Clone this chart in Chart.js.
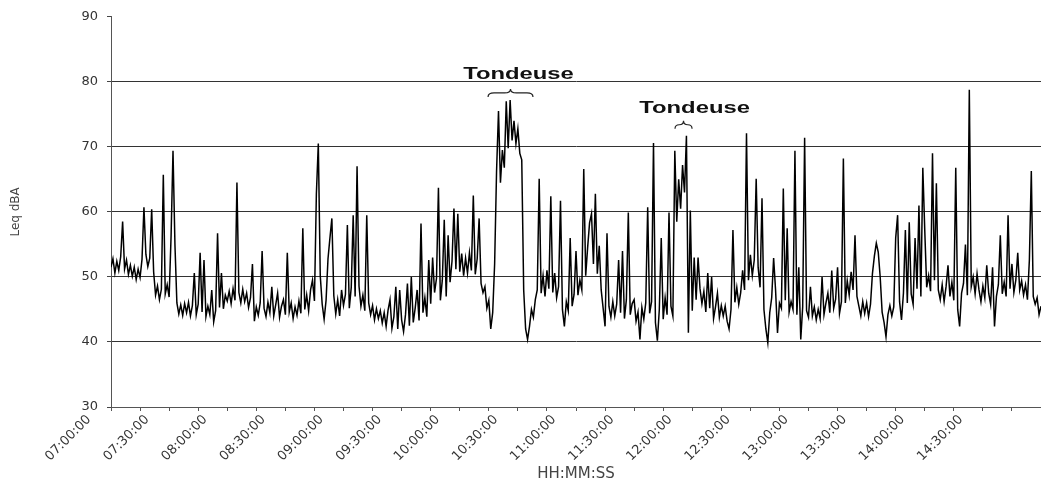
<!DOCTYPE html>
<html>
<head>
<meta charset="utf-8">
<script src="https://cdn.jsdelivr.net/npm/chart.js@4.4.0/dist/chart.umd.min.js"></script>
<style>
  html, body { margin: 0; padding: 0; background: #fff; }
  #wrap { width: 1041px; height: 487px; }
</style>
</head>
<body>
<div id="wrap"><canvas id="myChart" width="1041" height="487"></canvas></div>
<script>
// one Leq sample per minute, starting 07:00:00
const timeLabels = ['07:00:00', '07:30:00', '08:00:00', '08:30:00', '09:00:00', '09:30:00', '10:00:00', '10:30:00',
  '11:00:00', '11:30:00', '12:00:00', '12:30:00', '13:00:00', '13:30:00', '14:00:00', '14:30:00'];

const leq07 = [51.5, 52.8, 50.6, 52.4, 51.0, 53.1, 58.5, 51.2, 52.6, 50.4,
  51.8, 50.1, 51.5, 49.6, 51.2, 49.9, 52.7, 60.7, 53.5, 51.6,
  52.9, 60.4, 50.8, 47.2, 48.6, 46.5, 48.1, 65.7, 47.4, 48.8,
  46.9, 56.2, 69.4, 55.0, 46.0, 44.3, 45.7, 44.1, 45.9, 44.5,
  46.1, 44.0, 45.6, 50.6, 44.2, 45.8, 53.7, 44.6, 52.6, 43.9,
  45.5, 44.2, 48.0, 43.1, 44.8, 56.7, 45.3, 50.6, 45.1, 47.2];

const leq08 = [46.3, 47.8, 45.9, 48.2, 46.4, 64.5, 47.6, 46.0, 48.1, 46.2,
  47.5, 45.3, 46.8, 52.0, 43.2, 45.4, 44.1, 46.0, 54.0, 45.2,
  43.9, 46.1, 44.5, 48.5, 44.0, 45.7, 47.5, 43.8, 45.5, 46.5,
  44.2, 53.7, 44.6, 46.0, 43.6, 45.4, 44.1, 46.3, 44.4, 57.5,
  45.0, 47.2, 44.8, 48.0, 49.5, 46.3, 62.8, 70.5, 50.2, 45.8,
  43.5, 46.4, 52.8, 56.0, 59.0, 47.1, 44.3, 46.5, 44.0, 48.0];

const leq09 = [45.6, 47.3, 58.0, 45.2, 48.4, 59.5, 47.0, 67.0, 48.6, 45.5,
  47.2, 44.8, 59.5, 46.0, 44.2, 45.6, 43.4, 45.1, 43.6, 44.8,
  42.9, 44.5, 42.4, 44.9, 46.5, 42.1, 43.9, 48.5, 42.0, 48.0,
  43.4, 41.6, 44.2, 49.0, 42.5, 50.0, 43.0, 45.2, 48.0, 43.3,
  58.2, 44.5, 46.8, 43.9, 52.6, 45.9, 53.0, 47.6, 49.8, 63.7,
  46.4, 49.5, 58.8, 47.0, 56.4, 49.2, 52.4, 60.5, 51.2, 59.7];

const leq10 = [50.8, 53.6, 50.2, 52.9, 50.6, 53.7, 51.0, 62.5, 50.4, 52.8,
  59.0, 49.0, 47.6, 48.5, 45.2, 46.4, 42.0, 44.5, 52.0, 66.3,
  75.5, 64.5, 69.5, 66.8, 77.0, 69.8, 77.2, 71.0, 74.0, 70.5,
  72.8, 69.0, 68.0, 48.0, 42.0, 40.4, 42.4, 45.0, 43.8, 46.5,
  48.0, 65.1, 47.5, 50.2, 47.0, 51.0, 48.2, 62.4, 47.6, 50.6,
  46.8, 48.5, 61.7, 45.0, 42.4, 46.2, 44.8, 56.0, 45.5, 47.3];

const leq11 = [54.0, 47.2, 49.5, 48.0, 66.6, 50.2, 54.5, 58.3, 59.7, 52.0,
  62.8, 50.5, 54.8, 48.0, 45.2, 42.4, 56.7, 45.5, 43.8, 46.2,
  44.0, 45.8, 52.6, 44.5, 54.0, 43.6, 46.5, 59.9, 44.2, 45.9,
  46.5, 43.2, 44.6, 40.4, 45.3, 43.5, 46.0, 60.7, 44.4, 46.2,
  70.6, 43.0, 40.2, 45.0, 56.0, 43.5, 46.8, 44.2, 59.9, 45.5,
  44.0, 69.4, 58.5, 65.0, 60.5, 67.2, 63.0, 71.7, 41.4, 60.2];

const leq12 = [44.8, 53.0, 46.5, 53.0, 48.2, 45.9, 47.8, 44.6, 50.6, 45.2,
  50.0, 43.6, 45.4, 47.5, 43.8, 45.6, 44.0, 45.5, 43.2, 42.0,
  45.0, 57.2, 46.1, 48.4, 45.8, 47.6, 51.0, 48.0, 72.1, 49.5,
  53.4, 50.2, 52.6, 65.1, 51.5, 48.4, 62.1, 45.0, 42.0, 39.9,
  44.5, 46.8, 52.9, 48.0, 41.4, 46.0, 45.2, 63.6, 46.4, 57.5,
  44.6, 46.2, 45.0, 69.4, 44.2, 51.5, 40.4, 45.4, 71.4, 44.8];

const leq13 = [43.8, 48.5, 44.0, 45.4, 43.4, 45.0, 43.6, 50.0, 44.2, 46.0,
  47.5, 44.5, 51.0, 45.2, 46.6, 51.5, 44.4, 46.2, 68.2, 46.0,
  49.4, 47.2, 50.8, 48.0, 56.4, 47.0, 45.5, 44.0, 46.2, 44.4,
  46.0, 43.9, 45.8, 50.5, 53.2, 55.2, 53.8, 50.0, 44.6, 43.0,
  40.8, 44.2, 45.6, 44.0, 45.4, 56.0, 59.5, 46.2, 43.4, 47.5,
  57.2, 46.0, 58.4, 47.4, 45.8, 56.0, 48.2, 61.0, 47.0, 66.8];

const leq14 = [57.2, 48.4, 50.2, 47.8, 69.0, 49.5, 64.4, 48.0, 46.5, 48.8,
  46.2, 48.5, 51.8, 47.0, 49.2, 46.4, 66.8, 45.0, 42.4, 47.5,
  49.0, 55.0, 47.2, 78.8, 48.5, 50.0, 47.4, 50.5, 48.0, 46.2,
  48.6, 46.8, 51.8, 47.5, 45.8, 51.5, 42.4, 47.0, 48.8, 56.4,
  47.4, 49.2, 47.0, 59.5, 48.2, 52.0, 47.6, 49.5, 53.7, 48.0,
  49.4, 47.2, 48.8, 46.5, 52.6, 66.3, 47.0, 45.8, 46.8, 44.2,
  45.5];

// lawnmower notes: minutes after 07:00 and dB level of the brace / label
const notes = [
  { text: 'Tondeuse', from: 194.6, to: 217.8, level: 78.3, textAt: 210.3, textLevel: 80.5 },
  { text: 'Tondeuse', from: 291.1, to: 299.9, level: 73.4, textAt: 301.2, textLevel: 75.2 }
];

const leq = [].concat(leq07, leq08, leq09, leq10, leq11, leq12, leq13, leq14);
const points = leq.map((v, i) => ({ x: i, y: v }));

function drawBrace(ctx, x1, x2, y, h) {
  const xm = (x1 + x2) / 2;
  const r = Math.min(6, (x2 - x1) / 4);
  ctx.beginPath();
  ctx.moveTo(x1, y + h);
  ctx.quadraticCurveTo(x1, y, x1 + r, y);
  ctx.lineTo(xm - r, y);
  ctx.quadraticCurveTo(xm, y, xm, y - h);
  ctx.quadraticCurveTo(xm, y, xm + r, y);
  ctx.lineTo(x2 - r, y);
  ctx.quadraticCurveTo(x2, y, x2, y + h);
  ctx.stroke();
}

const noteLabels = {
  id: 'noteLabels',
  afterDatasetsDraw(chart) {
    const { ctx, scales: { x, y } } = chart;
    ctx.save();
    ctx.strokeStyle = '#222';
    ctx.lineWidth = 1.2;
    ctx.fillStyle = '#111';
    ctx.font = 'bold 17px "Liberation Sans", Arial, sans-serif';
    ctx.textAlign = 'center';
    ctx.textBaseline = 'alphabetic';
    notes.forEach(n => {
      drawBrace(ctx, x.getPixelForValue(n.from), x.getPixelForValue(n.to), y.getPixelForValue(n.level), 4);
      ctx.save();
      ctx.translate(x.getPixelForValue(n.textAt), y.getPixelForValue(n.textLevel));
      ctx.scale(1.4, 1); // the scanned original is stretched sideways
      ctx.fillText(n.text, 0, 0);
      ctx.restore();
    });
    ctx.restore();
  }
};

const tickFont = { family: '"DejaVu Sans", sans-serif', size: 13 };

new Chart(document.getElementById('myChart').getContext('2d'), {
  type: 'line',
  data: {
    datasets: [{
      label: 'Leq dBA',
      data: points,
      borderColor: '#000',
      borderWidth: 1.5,
      pointRadius: 0,
      tension: 0,
      fill: false
    }]
  },
  options: {
    responsive: false,
    animation: false,
    layout: { padding: { top: 15, right: 0, bottom: 0, left: 0 } },
    plugins: { legend: { display: false }, tooltip: { enabled: false } },
    scales: {
      x: {
        type: 'linear',
        min: 0,
        max: 480,
        afterFit: s => { s.height = 80; s.paddingLeft = 0; s.paddingRight = 0; },
        border: { display: true, color: '#555', width: 1 },
        grid: { drawOnChartArea: false, drawTicks: true, tickLength: 4, tickColor: '#555' },
        ticks: {
          stepSize: 15,
          autoSkip: false,
          minRotation: 45,
          maxRotation: 45,
          labelOffset: -22,
          padding: 1,
          color: '#333',
          font: tickFont,
          callback: v => (v % 30 === 0 ? (timeLabels[v / 30] || '') : '')
        },
        title: {
          display: true,
          text: 'HH:MM:SS',
          color: '#444',
          font: { family: '"DejaVu Sans", sans-serif', size: 15 },
          padding: { top: 0, bottom: 4 }
        }
      },
      y: {
        min: 30,
        max: 90,
        afterFit: s => { s.width = 111; },
        border: { display: true, color: '#555', width: 1 },
        grid: {
          color: c => (c.tick.value === 90 || c.tick.value === 30) ? 'rgba(0,0,0,0)' : '#333',
          tickColor: '#444',
          tickLength: 4
        },
        ticks: { stepSize: 10, padding: 9, color: '#333', font: tickFont },
        title: {
          display: true,
          text: 'Leq dBA',
          color: '#444',
          font: { family: '"DejaVu Sans", sans-serif', size: 12 },
          padding: { top: 9, bottom: 0 }
        }
      }
    }
  },
  plugins: [noteLabels]
});
</script>
</body>
</html>
